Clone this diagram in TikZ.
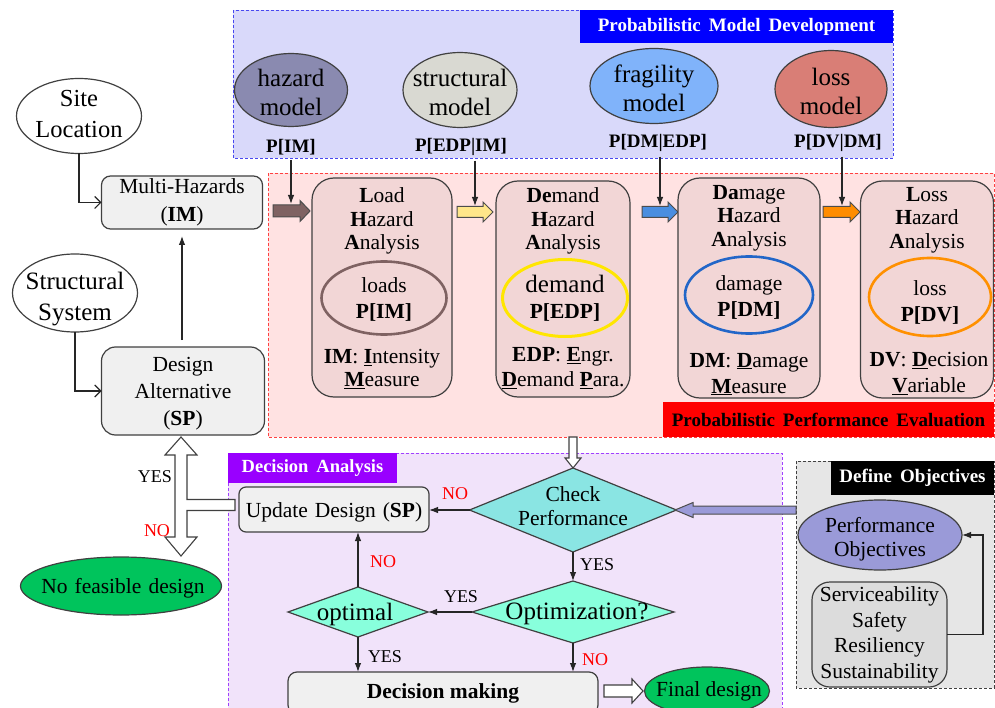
\documentclass[tikz,border=0pt]{standalone}
\usepackage{fontspec}
\setmainfont{Liberation Serif}
\usetikzlibrary{shapes.geometric,arrows.meta,calc}

% colours
\definecolor{pmdfill}{HTML}{D9D9FA}
\definecolor{pmdline}{HTML}{4848F0}
\definecolor{pmdbar}{HTML}{0000FF}
\definecolor{ppefill}{HTML}{FFE2E2}
\definecolor{ppeline}{HTML}{FF4040}
\definecolor{ppebar}{HTML}{FF0000}
\definecolor{dafill}{HTML}{F1E3FA}
\definecolor{daline}{HTML}{A040FF}
\definecolor{dabar}{HTML}{9900FF}
\definecolor{dofill}{HTML}{E6E6E6}
\definecolor{stagefill}{HTML}{F2D6D6}
\definecolor{lightbox}{HTML}{F0F0F0}
\definecolor{hazfill}{HTML}{8A8AB0}
\definecolor{strfill}{HTML}{D9D9D2}
\definecolor{fragfill}{HTML}{80B3FA}
\definecolor{lossfill}{HTML}{D97E76}
\definecolor{loadring}{HTML}{7F6262}
\definecolor{demring}{HTML}{FFE600}
\definecolor{damring}{HTML}{2266C8}
\definecolor{lossring}{HTML}{FF9000}
\definecolor{checkfill}{HTML}{8AE5E3}
\definecolor{optfill}{HTML}{88FFDC}
\definecolor{greenfill}{HTML}{00C45C}
\definecolor{objfill}{HTML}{9A9AD8}
\definecolor{svcfill}{HTML}{DCDCDC}
\definecolor{linegray}{HTML}{404040}
\definecolor{noRed}{HTML}{FF0000}
\definecolor{brownarr}{HTML}{7F6262}
\definecolor{yellowarr}{HTML}{FFE68A}
\definecolor{bluearr}{HTML}{4A8EE0}
\definecolor{orangearr}{HTML}{FF8C00}

\newcommand\fsz[2]{\fontsize{#1}{#2}\selectfont}
\newcommand\ubf[1]{\underline{\textbf{#1}}}
\newcommand\widespace{\spaceskip 8pt\relax}
\newcommand\midspace{\spaceskip 7pt\relax}

% block arrows: style, start point on the centre line, shaft length, head length, shaft half-width, head half-width
\newcommand\blockright[6]{\draw[#1] (#2) ++(0,-#5) -- ++(#3,0) -- ++(0,#5-#6) -- ++(#4,#6) -- ++(-#4,#6) -- ++(0,#5-#6) -- ++(-#3,0) -- cycle;}
\newcommand\blockleft[6]{\draw[#1] (#2) ++(0,-#5) -- ++(-#3,0) -- ++(0,#5-#6) -- ++(-#4,#6) -- ++(#4,#6) -- ++(0,#5-#6) -- ++(#3,0) -- cycle;}
\newcommand\blockdown[6]{\draw[#1] (#2) ++(-#5,0) -- ++(0,#3) -- ++(#5-#6,0) -- ++(#6,#4) -- ++(#6,-#4) -- ++(#5-#6,0) -- ++(0,-#3) -- cycle;}

\begin{document}
\begin{tikzpicture}[x=1pt,y=-1pt,
  every node/.style={inner sep=0pt,outer sep=0pt},
  txt/.style={align=center,font=\fsz{21.5}{24}},
  panel/.style={densely dashed,line width=0.9pt},
  titlebar/.style={anchor=north west,text=white,font=\fsz{19}{22}\bfseries\widespace},
  ell/.style={ellipse,draw=linegray,line width=1.2pt},
  lbox/.style={rectangle,draw=linegray,fill=lightbox,line width=1.2pt,rounded corners=9pt,align=center,font=\fsz{21.5}{28}},
  stage/.style={rectangle,draw=linegray,fill=stagefill,line width=1.2pt,rounded corners=22pt},
  ring/.style={ellipse,line width=2.6pt},
  dia/.style={diamond,draw=linegray,line width=1.2pt},
  plabel/.style={font=\fsz{19}{22}\bfseries},
  lab/.style={font=\fsz{18}{20}},
  conn/.style={draw=black!85,line width=1.1pt,-{Latex[length=9pt,width=6.5pt]}},
  openconn/.style={draw=black!85,line width=1.1pt,-{Straight Barb[length=6pt,width=12pt]}},
  hollow/.style={draw=linegray,fill=white,line width=1.1pt},
  fat/.style={draw=black!70,line width=1pt},
]
\useasboundingbox (0,0) rectangle (995,708);

% ---------- panels ----------
\draw[panel,draw=pmdline,fill=pmdfill] (233,10) rectangle (893,158);
\node[titlebar,fill=pmdbar,minimum width=313pt,minimum height=33pt] (pmdtitle) at (580,10) {Probabilistic Model Development};

\draw[panel,draw=ppeline,fill=ppefill] (268,173) rectangle (994,437);
\node[titlebar,fill=ppebar,text=black,minimum width=331pt,minimum height=35pt] (ppetitle) at (663,402) {Probabilistic Performance Evaluation};

\draw[panel,draw=daline,fill=dafill] (228,453) rectangle (782,712);
\node[titlebar,fill=dabar,minimum width=169pt,minimum height=30pt,font=\fsz{18.5}{22}\bfseries\widespace] (datitle) at (228,453) {Decision Analysis};

\draw[panel,draw=linegray,fill=dofill] (796,461) rectangle (994,688);
\node[titlebar,fill=black,minimum width=163pt,minimum height=34pt] (dotitle) at (831,461) {Define Objectives};

% ---------- model ellipses ----------
\node[ell,fill=hazfill,minimum width=113pt,minimum height=73pt] (haz) at (291,90) {};
\node[txt,font=\fsz{25}{29}] (haz-t) at (291,92) {hazard\\model};
\node[ell,fill=strfill,minimum width=114pt,minimum height=75pt] (str) at (460,90) {};
\node[txt,font=\fsz{25}{29}] (str-t) at (460,92) {structural\\model};
\node[ell,fill=fragfill,minimum width=128pt,minimum height=75pt] (frag) at (654,86) {};
\node[txt,font=\fsz{25}{29}] (frag-t) at (654,88) {fragility\\model};
\node[ell,fill=lossfill,minimum width=112pt,minimum height=77pt] (lossm) at (831,89) {};
\node[txt,font=\fsz{25}{29}] (lossm-t) at (831,91) {loss\\model};

\node[plabel] (pim) at (291,147) {P[IM]};
\node[plabel] (pedp) at (461,147) {P[EDP|IM]};
\node[plabel] (pdm) at (658,143) {P[DM|EDP]};
\node[plabel] (pdv) at (838,143) {P[DV|DM]};

% ---------- block arrows between the stages ----------
\coordinate (ba1) at (273,211);
\coordinate (ba2) at (457,212);
\coordinate (ba3) at (642,212);
\coordinate (ba4) at (823,212);
\blockright{fat,fill=brownarr}{ba1}{27}{10}{6}{10.5}
\blockright{fat,fill=yellowarr}{ba2}{26}{10}{5.5}{10}
\blockright{fat,fill=bluearr}{ba3}{26}{10}{5.5}{10}
\blockright{fat,fill=orangearr}{ba4}{27}{10}{5.5}{10}

\coordinate (t1) at (291,204);
\coordinate (t2) at (475,206);
\coordinate (t3) at (660,206);
\coordinate (t4) at (842,206);
\draw[conn,shorten <=5pt] (pim.south) -- (t1);
\draw[conn,shorten <=5pt] (pedp.south -| t2) -- (t2);
\draw[conn,shorten <=5pt] (pdm.south -| t3) -- (t3);
\draw[conn,shorten <=5pt] (pdv.south -| t4) -- (t4);

% ---------- analysis stages ----------
\node[stage,minimum width=140pt,minimum height=219pt] (load) at (382,287.5) {};
\node[txt,font=\fsz{21.5}{23.5}] (load-h) at (382,221) {\textbf{L}oad\\\textbf{H}azard\\\textbf{A}nalysis};
\node[ring,draw=loadring,minimum width=125pt,minimum height=73pt] (load-e) at (384,298) {};
\node[txt,font=\fsz{21.5}{26}] (load-et) at (384,299) {loads\\\textbf{P[IM]}};
\node[txt,font=\fsz{21.5}{23.5}] (load-b) at (382,369) {\textbf{IM}: \ubf{I}ntensity\\\ubf{M}easure};

\node[stage,minimum width=134pt,minimum height=216pt] (dem) at (563,289) {};
\node[txt,font=\fsz{21.5}{23.5}] (dem-h) at (563,221) {\textbf{De}mand\\\textbf{H}azard\\\textbf{A}nalysis};
\node[ring,draw=demring,line width=3pt,minimum width=125pt,minimum height=77pt] (dem-e) at (565,298) {};
\node[txt,font=\fsz{21.5}{26}] (dem-et) at (565,298) {{\fsz{25}{26}demand}\\\textbf{P[EDP]}};
\node[txt,font=\fsz{21.5}{25}] (dem-b) at (563,368) {\textbf{EDP}: \ubf{E}ngr.\\\ubf{D}emand \ubf{P}ara.};

\node[stage,minimum width=142pt,minimum height=220pt] (dam) at (749,288) {};
\node[txt,font=\fsz{21.5}{23.5}] (dam-h) at (749,218) {\textbf{Da}mage\\\textbf{H}azard\\\textbf{A}nalysis};
\node[ring,draw=damring,minimum width=128pt,minimum height=77pt] (dam-e) at (749,295) {};
\node[txt,font=\fsz{21.5}{26}] (dam-et) at (749,297) {damage\\\textbf{P[DM]}};
\node[txt,font=\fsz{21.5}{26}] (dam-b) at (749,374) {\textbf{DM}: \ubf{D}amage\\\ubf{M}easure};

\node[stage,minimum width=133pt,minimum height=217pt] (loss) at (927,289.5) {};
\node[txt,font=\fsz{21.5}{23.5}] (loss-h) at (927,220) {\textbf{L}oss\\\textbf{H}azard\\\textbf{A}nalysis};
\node[ring,draw=lossring,minimum width=122pt,minimum height=78pt] (loss-e) at (930,297) {};
\node[txt,font=\fsz{21.5}{26}] (loss-et) at (930,302) {loss\\\textbf{P[DV]}};
\node[txt,font=\fsz{21.5}{26}] (loss-b) at (929,374) {\textbf{DV}: \ubf{D}ecision\\\ubf{V}ariable};

% ---------- design inputs ----------
\node[ell,fill=white,minimum width=125pt,minimum height=75pt] (site) at (79,116) {};
\node[txt,font=\fsz{24.5}{31}] (site-t) at (79,114) {Site\\Location};
\node[lbox,minimum width=161pt,minimum height=53pt] (mh) at (182,202.5) {Multi-Hazards\\(\textbf{IM})};

\node[ell,fill=white,minimum width=125pt,minimum height=78pt] (struct) at (75,293) {};
\node[txt,font=\fsz{25}{31}] (struct-t) at (75,299) {Structural\\System};
\node[lbox,minimum width=163pt,minimum height=88pt,rounded corners=14pt,font=\fsz{21.5}{27}] (da) at (183,391) {};
\node[txt,font=\fsz{21.5}{27}] (da-t) at (183,394) {Design\\Alternative\\(\textbf{SP})};

\draw[openconn] (site.south) |- (mh.west);
\draw[openconn] (struct.south) |- (da.west);
\draw[conn,shorten <=7pt,shorten >=7pt] (mh.south |- da.north) -- (mh.south);

% ---------- decision analysis ----------
\node[dia,fill=checkfill,minimum width=207pt,minimum height=84pt] (check) at (573,510) {};
\node[txt] (check-t) at (573,506) {Check\\Performance};
\node[lbox,minimum width=190pt,minimum height=45pt,rounded corners=7pt] (upd) at (334,509.5) {};
\node[font=\fsz{21.5}{24}\midspace] (upd-t) at (334,512) {Update Design (\textbf{SP})};
\node[dia,fill=optfill,minimum width=202pt,minimum height=62pt] (opt) at (573,612) {};
\node[font=\fsz{25}{28}] (opt-t) at (577,614) {Optimization?};
\node[dia,fill=optfill,minimum width=140pt,minimum height=50pt] (optim) at (358,612) {};
\node[font=\fsz{25}{28}] (optim-t) at (355,614) {optimal};
\node[lbox,minimum width=310pt,minimum height=42pt,rounded corners=9pt] (dm) at (443,693) {};
\node[font=\fsz{21.5}{24}\bfseries] (dm-t) at (443,693) {Decision making};
\node[ell,fill=greenfill,minimum width=125pt,minimum height=48pt] (fin) at (707,691) {};
\node[txt] (fin-t) at (709,691) {Final design};

\draw[conn] (check.west) -- (check.west -| upd.east);
\draw[conn] (check.south) -- (opt.north);
\draw[conn] (opt.west) -- (optim.east);
\draw[conn] (optim.north) -- (optim.north |- upd.south);
\draw[conn] (optim.south) -- (optim.south |- dm.north);
\draw[conn] (opt.south) -- (opt.south |- dm.north);

\node[lab,text=noRed] (no1) at (455,494) {NO};
\node[lab] (yes1) at (597,565) {YES};
\node[lab] (yes2) at (461,597) {YES};
\node[lab,text=noRed] (no2) at (383,562) {NO};
\node[lab] (yes3) at (385,657) {YES};
\node[lab,text=noRed] (no3) at (595,660) {NO};

% hollow arrows
\coordinate (ppeout) at (573,437);
\blockdown{hollow}{ppeout}{21}{10}{4}{8}
\coordinate (dmout) at (604,691);
\blockright{hollow}{dmout}{28}{11}{6}{12}

% T-shaped hollow arrow: Update Design back to Design Alternative / No feasible design
\coordinate (tj) at (181,505);
\draw[hollow] (tj) ++(54,-5.5) -- ++(-48,0) -- ++(0,-44.5) -- ++(10,0) -- ++(-16,-18) -- ++(-16,18) -- ++(10,0)
  -- ++(0,82) -- ++(-10,0) -- ++(16,19) -- ++(16,-19) -- ++(-10,0) -- ++(0,-26.5) -- ++(48,0) -- cycle;
\node[lab] (yes4) at (155,477) {YES};
\node[lab,text=noRed] (no4) at (157,531) {NO};

\node[ell,fill=greenfill,minimum width=201pt,minimum height=58pt] (nofeas) at (121,586) {};
\node[txt,font=\fsz{21.5}{24}\midspace] (nofeas-t) at (123,588) {No feasible design};

% ---------- objectives ----------
\node[ell,fill=objfill,minimum width=164pt,minimum height=70pt] (perf) at (880,535) {};
\node[txt,font=\fsz{21.5}{24}] (perf-t) at (880,539) {Performance\\Objectives};
\node[rectangle,draw=linegray,fill=svcfill,line width=1.2pt,rounded corners=18pt,minimum width=135pt,minimum height=105pt] (svc) at (879.5,634.5) {};
\node[txt,font=\fsz{21.5}{25.5}] (svc-t) at (879.5,635) {Serviceability\\Safety\\Resiliency\\Sustainability};
\draw[conn] (svc.east) -- ++(36,0) |- (perf.east);

\coordinate (doout) at (796,510);
\blockleft{fat,fill=objfill}{doout}{103}{18}{4}{7.5}
\end{tikzpicture}
\end{document}
